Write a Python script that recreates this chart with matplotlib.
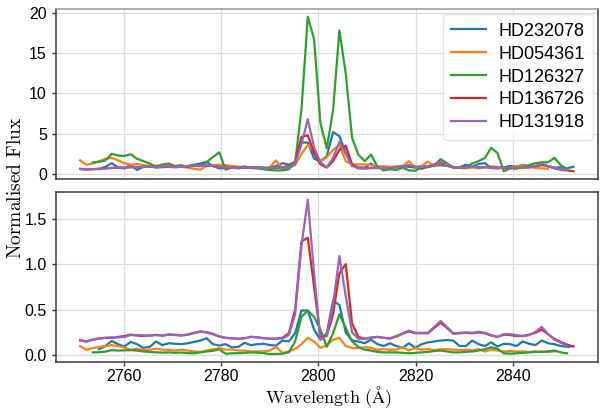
import matplotlib
matplotlib.use("Agg")
import matplotlib.pyplot as plt
import numpy as np

# wavelength grid (Angstrom)
wavelength = [
    2751.0, 2752.3, 2753.6, 2754.9, 2756.2, 2757.5, 2758.8, 2760.1, 2761.4, 2762.7,
    2764.0, 2765.3, 2766.6, 2767.9, 2769.2, 2770.5, 2771.8, 2773.1, 2774.4, 2775.7,
    2777.0, 2778.3, 2779.6, 2780.9, 2782.2, 2783.5, 2784.8, 2786.1, 2787.4, 2788.7,
    2790.0, 2791.3, 2792.6, 2793.9, 2795.2, 2796.5, 2797.8, 2799.1, 2800.4, 2801.7,
    2803.0, 2804.3, 2805.6, 2806.9, 2808.2, 2809.5, 2810.8, 2812.1, 2813.4, 2814.7,
    2816.0, 2817.3, 2818.6, 2819.9, 2821.2, 2822.5, 2823.8, 2825.1, 2826.4, 2827.7,
    2829.0, 2830.3, 2831.6, 2832.9, 2834.2, 2835.5, 2836.8, 2838.1, 2839.4, 2840.7,
    2842.0, 2843.3, 2844.6, 2845.9, 2847.2, 2848.5, 2849.8, 2851.1, 2852.4,
]

stars = ["HD232078", "HD054361", "HD126327", "HD136726", "HD131918"]
colors = ["#1f77b4", "#ff7f0e", "#2ca02c", "#d62728", "#9467bd"]

N = None

# upper panel: flux normalised to the local continuum
hd232078_top = [
    N, N, N, 0.6, 0.9, 1.35, 0.8, 0.7, 1.15, 0.5,
    0.9, 0.95, 0.8, 0.85, 0.9, 0.85, 0.9, 1.0, 1.15, 1.3,
    1.5, 1.0, 0.7, 0.75, 0.8, 0.7, 0.85, 0.8, 0.85, 0.8,
    0.75, 1.0, 1.35, 1.15, 1.5, 3.9, 3.9, 1.9, 1.6, 2.2,
    5.2, 4.7, 2.6, 1.1, 0.85, 0.8, 1.3, 0.8, 0.9, 0.85,
    0.85, 0.95, 0.9, 0.8, 0.65, 0.9, 1.05, 1.1, 1.0, 0.85,
    0.85, 1.15, 0.9, 1.25, 1.35, 0.75, 0.7, 0.85, 1.0, 0.9,
    1.15, 0.9, 0.95, 1.15, 1.0, 0.8, 0.85, 0.7, 0.9,
]
hd054361_top = [
    1.7, 1.15, 1.3, 1.6, 1.9, 2.0, 1.7, 1.35, 1.15, 1.25,
    1.1, 1.0, 1.05, 0.9, 0.95, 0.85, 0.9, 0.8, 0.65, 0.55,
    1.0, 1.1, 1.15, 1.1, 1.0, 0.9, 0.85, 0.75, 0.8, 0.65,
    0.85, 1.7, 0.6, 0.8, 1.1, 2.5, 3.6, 2.8, 1.5, 2.1,
    3.0, 3.6, 1.6, 1.2, 1.2, 1.2, 1.1, 0.95, 0.95, 0.9,
    0.95, 1.0, 1.6, 0.75, 1.0, 1.55, 0.95, 1.35, 1.05, 0.85,
    0.75, 0.7, 0.9, 0.7, 0.85, 0.95, 0.9, 0.75, 0.8, 0.95,
    1.1, 0.9, 0.75, 0.7, 0.65, N, N, N, N,
]
hd126327_top = [
    N, N, 1.45, 1.5, 1.7, 2.5, 2.3, 2.25, 2.45, 1.9,
    1.6, 1.3, 0.9, 1.2, 1.3, 1.0, 1.1, 0.9, 1.1, 1.0,
    1.5, 2.1, 2.7, 0.55, 0.8, 0.75, 0.95, 0.75, 0.7, 0.6,
    0.5, 0.45, 0.45, 0.6, 1.4, 8.0, 19.5, 16.7, 6.3, 3.2,
    7.9, 17.8, 12.5, 4.5, 2.4, 1.6, 2.4, 0.95, 0.45, 0.6,
    0.5, 0.8, 0.45, 0.4, 0.9, 0.85, 1.1, 1.85, 1.35, 0.8,
    0.8, 0.85, 1.3, 1.6, 2.0, 3.25, 2.6, 0.35, 0.7, 0.65,
    0.9, 1.1, 1.35, 1.45, 1.45, 2.0, 1.1, 0.6, N,
]
hd136726_top = [
    0.62, 0.57, 0.6, 0.65, 0.7, 0.75, 0.78, 0.8, 0.85, 0.85,
    0.88, 0.9, 0.9, 0.9, 0.93, 0.95, 0.95, 0.98, 1.0, 1.05,
    1.05, 1.0, 0.9, 0.85, 0.8, 0.78, 0.8, 0.8, 0.78, 0.75,
    0.75, 0.78, 0.85, 1.0, 1.4, 4.6, 4.8, 2.6, 1.2, 0.8,
    1.6, 3.0, 3.5, 1.2, 0.7, 0.7, 0.75, 0.75, 0.75, 0.75,
    0.85, 0.95, 1.05, 0.9, 0.9, 0.95, 1.15, 1.4, 1.15, 0.85,
    0.85, 0.85, 0.85, 0.85, 0.85, 0.8, 0.75, 0.78, 0.78, 0.78,
    0.78, 0.82, 0.95, 1.15, 0.95, 0.7, 0.55, 0.45, 0.35,
]
hd131918_top = [
    0.65, 0.55, 0.6, 0.65, 0.7, 0.75, 0.8, 0.8, 0.85, 0.85,
    0.9, 0.9, 0.9, 0.9, 0.95, 0.95, 0.95, 1.0, 1.0, 1.05,
    1.1, 1.0, 0.9, 0.85, 0.8, 0.78, 0.8, 0.8, 0.78, 0.75,
    0.75, 0.78, 0.8, 0.9, 1.3, 3.7, 6.8, 3.3, 1.45, 0.85,
    2.0, 4.0, 2.5, 1.0, 0.75, 0.7, 0.75, 0.75, 0.75, 0.75,
    0.85, 0.95, 1.1, 0.9, 0.9, 0.95, 1.2, 1.5, 1.2, 0.85,
    0.85, 0.85, 0.85, 0.85, 0.85, 0.8, 0.75, 0.8, 0.8, 0.8,
    0.8, 0.85, 1.0, 1.3, 0.95, 0.75, 0.65, 0.5, N,
]

# lower panel: flux normalised to the bolometric flux
hd232078_low = [
    N, N, N, 0.065, 0.10, 0.155, 0.12, 0.095, 0.145, 0.12,
    0.08, 0.09, 0.15, 0.11, 0.13, 0.125, 0.12, 0.13, 0.145, 0.16,
    0.185, 0.12, 0.105, 0.12, 0.085, 0.09, 0.135, 0.11, 0.12, 0.125,
    0.11, 0.105, 0.16, 0.15, 0.24, 0.49, 0.49, 0.28, 0.17, 0.24,
    0.6, 0.55, 0.25, 0.16, 0.15, 0.13, 0.17, 0.12, 0.10, 0.13,
    0.10, 0.08, 0.13, 0.08, 0.12, 0.14, 0.15, 0.16, 0.165, 0.16,
    0.10, 0.10, 0.16, 0.12, 0.10, 0.14, 0.095, 0.125, 0.12, 0.10,
    0.15, 0.125, 0.11, 0.16, 0.13, 0.12, 0.10, 0.09, 0.10,
]
hd054361_low = [
    0.10, 0.058, 0.076, 0.09, 0.10, 0.11, 0.10, 0.083, 0.058, 0.07,
    0.06, 0.058, 0.07, 0.06, 0.058, 0.05, 0.06, 0.05, 0.04, 0.035,
    0.05, 0.065, 0.076, 0.06, 0.06, 0.05, 0.05, 0.04, 0.04, 0.04,
    0.05, 0.09, 0.025, 0.04, 0.07, 0.12, 0.19, 0.15, 0.08, 0.11,
    0.17, 0.19, 0.10, 0.08, 0.075, 0.087, 0.08, 0.058, 0.065, 0.058,
    0.06, 0.087, 0.05, 0.076, 0.06, 0.065, 0.055, 0.065, 0.065, 0.06,
    0.055, 0.058, 0.05, 0.065, 0.04, 0.058, 0.05, 0.04, 0.045, 0.04,
    0.04, 0.035, 0.04, 0.04, 0.035, 0.04, N, N, N,
]
hd126327_low = [
    N, N, 0.03, 0.032, 0.038, 0.055, 0.05, 0.052, 0.055, 0.05,
    0.04, 0.035, 0.03, 0.028, 0.03, 0.025, 0.028, 0.022, 0.02, 0.03,
    0.04, 0.047, 0.065, 0.015, 0.02, 0.022, 0.025, 0.03, 0.028, 0.022,
    0.012, 0.012, 0.015, 0.03, 0.15, 0.42, 0.49, 0.42, 0.28, 0.09,
    0.24, 0.45, 0.30, 0.15, 0.09, 0.06, 0.05, 0.035, 0.03, 0.03,
    0.03, 0.025, 0.02, 0.025, 0.03, 0.035, 0.045, 0.05, 0.04, 0.03,
    0.03, 0.035, 0.04, 0.05, 0.065, 0.085, 0.07, 0.02, 0.015, 0.02,
    0.025, 0.03, 0.035, 0.035, 0.04, 0.05, 0.03, 0.02, N,
]
hd136726_low = [
    0.16, 0.15, 0.17, 0.18, 0.19, 0.19, 0.20, 0.21, 0.225, 0.215,
    0.21, 0.215, 0.22, 0.215, 0.225, 0.22, 0.215, 0.225, 0.245, 0.26,
    0.25, 0.23, 0.205, 0.19, 0.185, 0.18, 0.185, 0.20, 0.195, 0.185,
    0.18, 0.18, 0.19, 0.24, 0.50, 1.25, 1.29, 0.75, 0.20, 0.21,
    0.45, 0.90, 1.00, 0.35, 0.20, 0.18, 0.19, 0.20, 0.19, 0.185,
    0.205, 0.235, 0.26, 0.24, 0.24, 0.24, 0.30, 0.355, 0.30, 0.235,
    0.24, 0.245, 0.24, 0.25, 0.24, 0.215, 0.20, 0.225, 0.22, 0.21,
    0.21, 0.225, 0.245, 0.28, 0.23, 0.18, 0.145, 0.115, 0.095,
]
hd131918_low = [
    0.166, 0.148, 0.173, 0.184, 0.19, 0.195, 0.195, 0.20, 0.22, 0.22,
    0.217, 0.213, 0.224, 0.213, 0.227, 0.224, 0.22, 0.224, 0.242, 0.256,
    0.253, 0.235, 0.206, 0.19, 0.184, 0.177, 0.184, 0.202, 0.195, 0.188,
    0.18, 0.18, 0.184, 0.22, 0.45, 1.20, 1.71, 0.90, 0.17, 0.22,
    0.55, 1.09, 0.65, 0.25, 0.18, 0.18, 0.195, 0.20, 0.19, 0.18,
    0.21, 0.24, 0.27, 0.245, 0.245, 0.245, 0.31, 0.375, 0.31, 0.24,
    0.245, 0.25, 0.245, 0.256, 0.245, 0.22, 0.20, 0.23, 0.23, 0.22,
    0.21, 0.22, 0.256, 0.31, 0.23, 0.17, 0.137, 0.10, N,
]

top_series = [hd232078_top, hd054361_top, hd126327_top, hd136726_top, hd131918_top]
low_series = [hd232078_low, hd054361_low, hd126327_low, hd136726_low, hd131918_low]

plt.rcParams["font.family"] = ["Liberation Sans", "DejaVu Sans"]
plt.rcParams["mathtext.fontset"] = "cm"

fig, (ax1, ax2) = plt.subplots(2, 1, figsize=(6.0, 4.12), dpi=100, sharex=True)
fig.subplots_adjust(left=0.093, right=0.997, top=0.978, bottom=0.122, hspace=0.076)

x = np.array(wavelength)
for name, color, top, low in zip(stars, colors, top_series, low_series):
    ax1.plot(x, np.array(top, dtype=float), color=color, lw=1.6, label=name)
    ax2.plot(x, np.array(low, dtype=float), color=color, lw=1.6)

for ax in (ax1, ax2):
    ax.grid(True, color="#dcdcdc", lw=0.9)
    ax.set_axisbelow(True)
    for spine in ax.spines.values():
        spine.set_color("#3a3a3a")
        spine.set_linewidth(1.1)
    ax.tick_params(labelsize=11.5, length=3, width=1, color="#3a3a3a", direction="out")

ax1.spines["top"].set_color("#999999")
ax1.set_xlim(2746, 2857.5)
ax1.set_yticks([0, 5, 10, 15, 20])
ax1.tick_params(axis="x", length=0)
ax2.set_xticks([2760, 2780, 2800, 2820, 2840])
ax2.set_yticks([0.0, 0.5, 1.0, 1.5])
ax2.tick_params(axis="x", pad=2)

ax1.legend(loc="upper right", fontsize=13, frameon=True, edgecolor="#dddddd",
           handlelength=1.9, handletextpad=0.7, borderpad=0.45, labelspacing=0.33,
           borderaxespad=0.3)

fig.text(0.548, 0.004, r"$\mathrm{Wavelength\ (\AA)}$", ha="center", va="bottom",
         fontsize=13)
fig.text(0.027, 0.545, r"$\mathrm{Normalised\ Flux}$", rotation=90,
         ha="center", va="center", fontsize=14)

fig.savefig("out.png", dpi=100)
